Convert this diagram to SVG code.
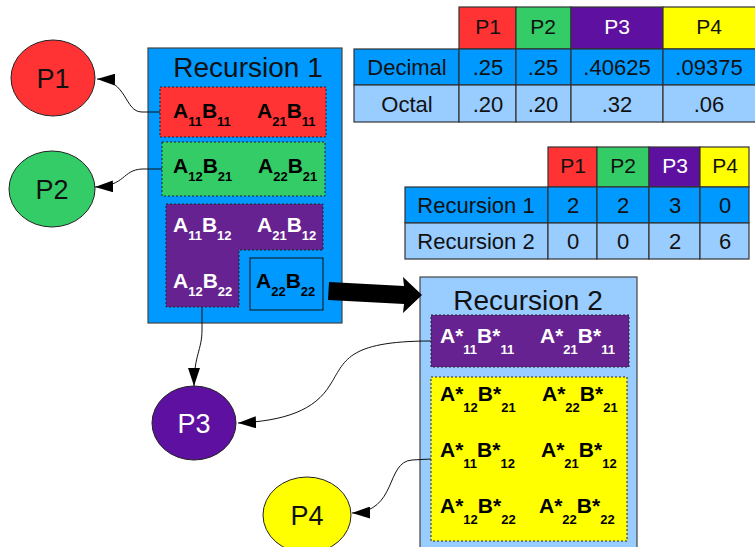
<svg xmlns="http://www.w3.org/2000/svg" width="755" height="547" viewBox="0 0 755 547">
  <style>
    text { font-family: "Liberation Sans", Arial, sans-serif; }
    .title { font-size: 28px; fill: #111; text-anchor: middle; }
    .plabel { font-size: 27px; text-anchor: middle; }
    .prod { font-size: 21px; font-weight: bold; }
    .sub { font-size: 13px; }
    .cell { font-size: 22px; text-anchor: middle; fill: #111; }
    .head { font-size: 21px; text-anchor: middle; fill: #111; }
    .tab { stroke: #333; stroke-width: 1.2; }
    .grp { stroke: #222; stroke-width: 1; stroke-dasharray: 2 2; }
    .conn { fill: none; stroke: #111; stroke-width: 1; }
  </style>
  <defs>
    <marker id="ah" viewBox="0 0 18 12" refX="18" refY="6" markerWidth="18" markerHeight="12" orient="auto" markerUnits="userSpaceOnUse">
      <path d="M0,0 L18,6 L0,12 z" fill="#000"/>
    </marker>
  </defs>

  <rect width="755" height="547" fill="#fff"/>

  <!-- Table: share of each processor, decimal and octal -->
  <g id="table-fractions">
    <rect class="tab" x="459" y="7" width="57" height="42" fill="#ff3333"/>
    <rect class="tab" x="516" y="7" width="55" height="42" fill="#33cc66"/>
    <rect class="tab" x="571" y="7" width="92" height="42" fill="#5e11a0"/>
    <rect class="tab" x="663" y="7" width="93" height="42" fill="#ffff00"/>
    <rect class="tab" x="354" y="49" width="105" height="36" fill="#0099ff"/>
    <rect class="tab" x="459" y="49" width="57" height="36" fill="#0099ff"/>
    <rect class="tab" x="516" y="49" width="55" height="36" fill="#0099ff"/>
    <rect class="tab" x="571" y="49" width="92" height="36" fill="#0099ff"/>
    <rect class="tab" x="663" y="49" width="93" height="36" fill="#0099ff"/>
    <rect class="tab" x="354" y="85" width="105" height="37" fill="#99ccff"/>
    <rect class="tab" x="459" y="85" width="57" height="37" fill="#99ccff"/>
    <rect class="tab" x="516" y="85" width="55" height="37" fill="#99ccff"/>
    <rect class="tab" x="571" y="85" width="92" height="37" fill="#99ccff"/>
    <rect class="tab" x="663" y="85" width="93" height="37" fill="#99ccff"/>
    <text class="head" x="488" y="34">P1</text>
    <text class="head" x="543" y="34">P2</text>
    <text class="head" x="617" y="34" style="fill:#fff">P3</text>
    <text class="head" x="709" y="34">P4</text>
    <text class="cell" x="407" y="75">Decimal</text>
    <text class="cell" x="488" y="75">.25</text>
    <text class="cell" x="543" y="75">.25</text>
    <text class="cell" x="617" y="75">.40625</text>
    <text class="cell" x="709" y="75">.09375</text>
    <text class="cell" x="407" y="112">Octal</text>
    <text class="cell" x="488" y="112">.20</text>
    <text class="cell" x="543" y="112">.20</text>
    <text class="cell" x="617" y="112">.32</text>
    <text class="cell" x="709" y="112">.06</text>
  </g>

  <!-- Table: products handled per recursion -->
  <g id="table-counts">
    <rect class="tab" x="548" y="147" width="49" height="40" fill="#ff3333"/>
    <rect class="tab" x="597" y="147" width="52" height="40" fill="#33cc66"/>
    <rect class="tab" x="649" y="147" width="51" height="40" fill="#5e11a0"/>
    <rect class="tab" x="700" y="147" width="49" height="40" fill="#ffff00"/>
    <rect class="tab" x="405" y="187" width="143" height="36" fill="#0099ff"/>
    <rect class="tab" x="548" y="187" width="49" height="36" fill="#0099ff"/>
    <rect class="tab" x="597" y="187" width="52" height="36" fill="#0099ff"/>
    <rect class="tab" x="649" y="187" width="51" height="36" fill="#0099ff"/>
    <rect class="tab" x="700" y="187" width="49" height="36" fill="#0099ff"/>
    <rect class="tab" x="405" y="223" width="143" height="36" fill="#99ccff"/>
    <rect class="tab" x="548" y="223" width="49" height="36" fill="#99ccff"/>
    <rect class="tab" x="597" y="223" width="52" height="36" fill="#99ccff"/>
    <rect class="tab" x="649" y="223" width="51" height="36" fill="#99ccff"/>
    <rect class="tab" x="700" y="223" width="49" height="36" fill="#99ccff"/>
    <text class="head" x="573" y="173">P1</text>
    <text class="head" x="623" y="173">P2</text>
    <text class="head" x="675" y="173" style="fill:#fff">P3</text>
    <text class="head" x="725" y="173">P4</text>
    <text class="cell" x="476" y="213">Recursion 1</text>
    <text class="cell" x="573" y="213">2</text>
    <text class="cell" x="623" y="213">2</text>
    <text class="cell" x="675" y="213">3</text>
    <text class="cell" x="725" y="213">0</text>
    <text class="cell" x="476" y="249">Recursion 2</text>
    <text class="cell" x="573" y="249">0</text>
    <text class="cell" x="623" y="249">0</text>
    <text class="cell" x="675" y="249">2</text>
    <text class="cell" x="725" y="249">6</text>
  </g>

  <!-- First recursion level -->
  <g id="recursion1">
    <rect x="148" y="48" width="194" height="275" fill="#0099ff" stroke="#444" stroke-width="1.2"/>
    <text class="title" x="248" y="77">Recursion 1</text>
    <rect class="grp" x="160" y="87" width="166" height="50" fill="#ff3333"/>
    <text class="prod" x="173" y="118">A<tspan class="sub" dy="8">11</tspan><tspan dy="-8">B</tspan><tspan class="sub" dy="8">11</tspan></text>
    <text class="prod" x="257" y="118">A<tspan class="sub" dy="8">21</tspan><tspan dy="-8">B</tspan><tspan class="sub" dy="8">11</tspan></text>
    <rect class="grp" x="162" y="142" width="163" height="54" fill="#33cc66"/>
    <text class="prod" x="173" y="173">A<tspan class="sub" dy="8">12</tspan><tspan dy="-8">B</tspan><tspan class="sub" dy="8">21</tspan></text>
    <text class="prod" x="258" y="173">A<tspan class="sub" dy="8">22</tspan><tspan dy="-8">B</tspan><tspan class="sub" dy="8">21</tspan></text>
    <path class="grp" d="M166,204 H323 V250 H239 V307 H166 Z" fill="#662290"/>
    <text class="prod" x="173" y="232" fill="#fff">A<tspan class="sub" dy="8">11</tspan><tspan dy="-8">B</tspan><tspan class="sub" dy="8">12</tspan></text>
    <text class="prod" x="257" y="232" fill="#fff">A<tspan class="sub" dy="8">21</tspan><tspan dy="-8">B</tspan><tspan class="sub" dy="8">12</tspan></text>
    <text class="prod" x="173" y="288" fill="#fff">A<tspan class="sub" dy="8">12</tspan><tspan dy="-8">B</tspan><tspan class="sub" dy="8">22</tspan></text>
    <rect x="250" y="258" width="73" height="52" fill="#0099ff" stroke="#111" stroke-width="1"/>
    <text class="prod" x="256" y="288">A<tspan class="sub" dy="8">22</tspan><tspan dy="-8">B</tspan><tspan class="sub" dy="8">22</tspan></text>
  </g>

  <!-- Second recursion level -->
  <g id="recursion2">
    <rect x="420" y="277" width="217" height="280" fill="#99ccff" stroke="#444" stroke-width="1.2"/>
    <text class="title" x="528" y="310">Recursion 2</text>
    <rect class="grp" x="431" y="315" width="198" height="52" fill="#662290"/>
    <text class="prod" x="440" y="343" fill="#fff">A*<tspan class="sub" dy="11">11</tspan><tspan dy="-11">B*</tspan><tspan class="sub" dy="11">11</tspan></text>
    <text class="prod" x="540" y="343" fill="#fff">A*<tspan class="sub" dy="11">21</tspan><tspan dy="-11">B*</tspan><tspan class="sub" dy="11">11</tspan></text>
    <rect class="grp" x="431" y="377" width="196" height="164" fill="#ffff00"/>
    <text class="prod" x="440" y="401">A*<tspan class="sub" dy="11">12</tspan><tspan dy="-11">B*</tspan><tspan class="sub" dy="11">21</tspan></text>
    <text class="prod" x="542" y="401">A*<tspan class="sub" dy="11">22</tspan><tspan dy="-11">B*</tspan><tspan class="sub" dy="11">21</tspan></text>
    <text class="prod" x="440" y="457">A*<tspan class="sub" dy="11">11</tspan><tspan dy="-11">B*</tspan><tspan class="sub" dy="11">12</tspan></text>
    <text class="prod" x="541" y="457">A*<tspan class="sub" dy="11">21</tspan><tspan dy="-11">B*</tspan><tspan class="sub" dy="11">12</tspan></text>
    <text class="prod" x="440" y="513">A*<tspan class="sub" dy="11">12</tspan><tspan dy="-11">B*</tspan><tspan class="sub" dy="11">22</tspan></text>
    <text class="prod" x="539" y="513">A*<tspan class="sub" dy="11">22</tspan><tspan dy="-11">B*</tspan><tspan class="sub" dy="11">22</tspan></text>
  </g>

  <!-- Processors -->
  <g id="p1">
    <ellipse cx="53" cy="78" rx="42" ry="38" fill="#ff3333" stroke="#222" stroke-width="1"/>
    <text class="plabel" x="53" y="88" fill="#111">P1</text>
  </g>
  <g id="p2">
    <ellipse cx="52" cy="189" rx="43" ry="38" fill="#33cc66" stroke="#222" stroke-width="1"/>
    <text class="plabel" x="52" y="199" fill="#111">P2</text>
  </g>
  <g id="p3">
    <ellipse cx="194" cy="423" rx="42" ry="37" fill="#5e11a0" stroke="#222" stroke-width="1"/>
    <text class="plabel" x="194" y="433" fill="#fff">P3</text>
  </g>
  <g id="p4">
    <ellipse cx="307" cy="515" rx="44" ry="38" fill="#ffff00" stroke="#222" stroke-width="1"/>
    <text class="plabel" x="307" y="525" fill="#111">P4</text>
  </g>

  <!-- Connectors -->
  <g id="connectors">
    <path class="conn" d="M160,112 L142,112 C124,112 128,80 97,79" marker-end="url(#ah)"/>
    <path class="conn" d="M162,169 L142,169 C122,170 126,186 95,187" marker-end="url(#ah)"/>
    <path class="conn" d="M202,307 L202,330 C202,350 194,355 194,386" marker-end="url(#ah)"/>
    <path class="conn" d="M431,341 C345,341 345,362 330,385 C315,410 285,421 238,423" marker-end="url(#ah)"/>
    <path class="conn" d="M431,459 L412,460 C385,462 398,512 352,513" marker-end="url(#ah)"/>
    <polygon points="329,282 404,286 403,277 422,295 403,313 404,304 328,300" fill="#000"/>
  </g>
</svg>
